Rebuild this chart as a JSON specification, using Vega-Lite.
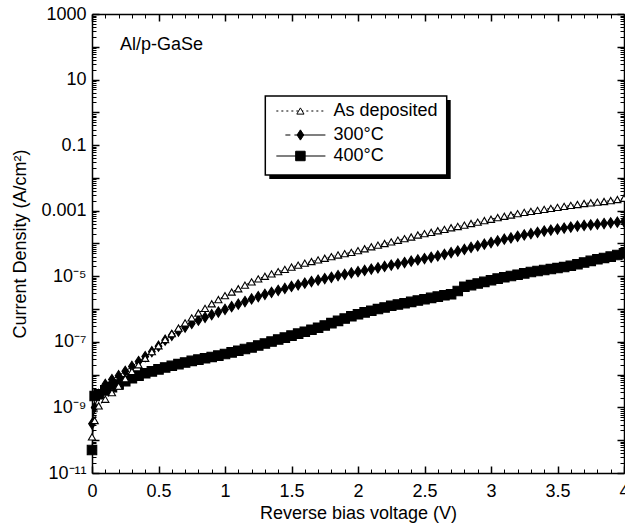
{
  "$schema": "https://vega.github.io/schema/vega-lite/v6.json",
  "width": 532,
  "height": 459,
  "autosize": {"type": "none"},
  "padding": {"left": 92, "top": 14, "right": 1, "bottom": 55},
  "background": "white",
  "config": {
    "view": {"stroke": null},
    "font": "Liberation Sans",
    "axis": {"grid": false, "tickColor": "black", "domainColor": "black", "labelColor": "black", "titleColor": "black", "labelFont": "Liberation Sans", "titleFont": "Liberation Sans", "titleFontWeight": "normal"}
  },
  "resolve": {"axis": {"x": "independent", "y": "independent"}},
  "datasets": {
    "series": [
      {"s":"As deposited","v":0,"j":1.26e-10},{"s":"As deposited","v":0.02,"j":3.98e-10},{"s":"As deposited","v":0.05,"j":1.12e-9},{"s":"As deposited","v":0.1,"j":1.78e-9},{"s":"As deposited","v":0.15,"j":2.82e-9},{"s":"As deposited","v":0.2,"j":4.47e-9},{"s":"As deposited","v":0.25,"j":7.59e-9},{"s":"As deposited","v":0.3,"j":1.26e-8},{"s":"As deposited","v":0.35,"j":2.0e-8},{"s":"As deposited","v":0.4,"j":3.16e-8},{"s":"As deposited","v":0.45,"j":5.01e-8},{"s":"As deposited","v":0.5,"j":7.59e-8},{"s":"As deposited","v":0.55,"j":1.18e-7},{"s":"As deposited","v":0.6,"j":1.78e-7},{"s":"As deposited","v":0.65,"j":2.63e-7},{"s":"As deposited","v":0.7,"j":3.8e-7},{"s":"As deposited","v":0.75,"j":5.37e-7},{"s":"As deposited","v":0.8,"j":7.59e-7},{"s":"As deposited","v":0.85,"j":1.05e-6},{"s":"As deposited","v":0.9,"j":1.45e-6},{"s":"As deposited","v":0.95,"j":1.95e-6},{"s":"As deposited","v":1,"j":2.57e-6},{"s":"As deposited","v":1.05,"j":3.31e-6},{"s":"As deposited","v":1.1,"j":4.17e-6},{"s":"As deposited","v":1.15,"j":5.37e-6},{"s":"As deposited","v":1.2,"j":6.76e-6},{"s":"As deposited","v":1.25,"j":8.32e-6},{"s":"As deposited","v":1.3,"j":1.0e-5},{"s":"As deposited","v":1.35,"j":1.18e-5},{"s":"As deposited","v":1.4,"j":1.38e-5},{"s":"As deposited","v":1.45,"j":1.62e-5},{"s":"As deposited","v":1.5,"j":1.91e-5},{"s":"As deposited","v":1.55,"j":2.19e-5},{"s":"As deposited","v":1.6,"j":2.51e-5},{"s":"As deposited","v":1.65,"j":2.82e-5},{"s":"As deposited","v":1.7,"j":3.16e-5},{"s":"As deposited","v":1.75,"j":3.55e-5},{"s":"As deposited","v":1.8,"j":3.98e-5},{"s":"As deposited","v":1.85,"j":4.47e-5},{"s":"As deposited","v":1.9,"j":4.9e-5},{"s":"As deposited","v":1.95,"j":5.37e-5},{"s":"As deposited","v":2,"j":6.03e-5},{"s":"As deposited","v":2.05,"j":6.92e-5},{"s":"As deposited","v":2.1,"j":7.94e-5},{"s":"As deposited","v":2.15,"j":8.91e-5},{"s":"As deposited","v":2.2,"j":1.0e-4},{"s":"As deposited","v":2.25,"j":1.12e-4},{"s":"As deposited","v":2.3,"j":1.26e-4},{"s":"As deposited","v":2.35,"j":1.41e-4},{"s":"As deposited","v":2.4,"j":1.58e-4},{"s":"As deposited","v":2.45,"j":1.82e-4},{"s":"As deposited","v":2.5,"j":2.0e-4},{"s":"As deposited","v":2.55,"j":2.19e-4},{"s":"As deposited","v":2.6,"j":2.45e-4},{"s":"As deposited","v":2.65,"j":2.69e-4},{"s":"As deposited","v":2.7,"j":3.02e-4},{"s":"As deposited","v":2.75,"j":3.31e-4},{"s":"As deposited","v":2.8,"j":3.63e-4},{"s":"As deposited","v":2.85,"j":4.07e-4},{"s":"As deposited","v":2.9,"j":4.47e-4},{"s":"As deposited","v":2.95,"j":5.01e-4},{"s":"As deposited","v":3,"j":5.5e-4},{"s":"As deposited","v":3.05,"j":6.17e-4},{"s":"As deposited","v":3.1,"j":6.76e-4},{"s":"As deposited","v":3.15,"j":7.41e-4},{"s":"As deposited","v":3.2,"j":8.13e-4},{"s":"As deposited","v":3.25,"j":8.91e-4},{"s":"As deposited","v":3.3,"j":9.55e-4},{"s":"As deposited","v":3.35,"j":1.02e-3},{"s":"As deposited","v":3.4,"j":1.1e-3},{"s":"As deposited","v":3.45,"j":1.18e-3},{"s":"As deposited","v":3.5,"j":1.26e-3},{"s":"As deposited","v":3.55,"j":1.35e-3},{"s":"As deposited","v":3.6,"j":1.45e-3},{"s":"As deposited","v":3.65,"j":1.55e-3},{"s":"As deposited","v":3.7,"j":1.66e-3},{"s":"As deposited","v":3.75,"j":1.74e-3},{"s":"As deposited","v":3.8,"j":1.82e-3},{"s":"As deposited","v":3.85,"j":1.91e-3},{"s":"As deposited","v":3.9,"j":2.04e-3},{"s":"As deposited","v":3.95,"j":2.19e-3},{"s":"As deposited","v":4,"j":2.4e-3},
      {"s":"300°C","v":0,"j":3.16e-10},{"s":"300°C","v":0.02,"j":1.0e-9},{"s":"300°C","v":0.05,"j":2.51e-9},{"s":"300°C","v":0.1,"j":5.01e-9},{"s":"300°C","v":0.15,"j":7.08e-9},{"s":"300°C","v":0.2,"j":9.33e-9},{"s":"300°C","v":0.25,"j":1.26e-8},{"s":"300°C","v":0.3,"j":1.78e-8},{"s":"300°C","v":0.35,"j":2.51e-8},{"s":"300°C","v":0.4,"j":3.55e-8},{"s":"300°C","v":0.45,"j":5.01e-8},{"s":"300°C","v":0.5,"j":7.41e-8},{"s":"300°C","v":0.55,"j":1.12e-7},{"s":"300°C","v":0.6,"j":1.58e-7},{"s":"300°C","v":0.65,"j":2.14e-7},{"s":"300°C","v":0.7,"j":2.82e-7},{"s":"300°C","v":0.75,"j":3.63e-7},{"s":"300°C","v":0.8,"j":4.57e-7},{"s":"300°C","v":0.85,"j":5.62e-7},{"s":"300°C","v":0.9,"j":6.76e-7},{"s":"300°C","v":0.95,"j":8.13e-7},{"s":"300°C","v":1,"j":9.77e-7},{"s":"300°C","v":1.05,"j":1.18e-6},{"s":"300°C","v":1.1,"j":1.41e-6},{"s":"300°C","v":1.15,"j":1.7e-6},{"s":"300°C","v":1.2,"j":2.04e-6},{"s":"300°C","v":1.25,"j":2.4e-6},{"s":"300°C","v":1.3,"j":2.82e-6},{"s":"300°C","v":1.35,"j":3.24e-6},{"s":"300°C","v":1.4,"j":3.72e-6},{"s":"300°C","v":1.45,"j":4.27e-6},{"s":"300°C","v":1.5,"j":4.9e-6},{"s":"300°C","v":1.55,"j":5.5e-6},{"s":"300°C","v":1.6,"j":6.17e-6},{"s":"300°C","v":1.65,"j":6.92e-6},{"s":"300°C","v":1.7,"j":7.59e-6},{"s":"300°C","v":1.75,"j":8.51e-6},{"s":"300°C","v":1.8,"j":9.33e-6},{"s":"300°C","v":1.85,"j":1.05e-5},{"s":"300°C","v":1.9,"j":1.15e-5},{"s":"300°C","v":1.95,"j":1.26e-5},{"s":"300°C","v":2,"j":1.38e-5},{"s":"300°C","v":2.05,"j":1.51e-5},{"s":"300°C","v":2.1,"j":1.66e-5},{"s":"300°C","v":2.15,"j":1.82e-5},{"s":"300°C","v":2.2,"j":2.0e-5},{"s":"300°C","v":2.25,"j":2.19e-5},{"s":"300°C","v":2.3,"j":2.4e-5},{"s":"300°C","v":2.35,"j":2.63e-5},{"s":"300°C","v":2.4,"j":2.88e-5},{"s":"300°C","v":2.45,"j":3.16e-5},{"s":"300°C","v":2.5,"j":3.47e-5},{"s":"300°C","v":2.55,"j":3.8e-5},{"s":"300°C","v":2.6,"j":4.17e-5},{"s":"300°C","v":2.65,"j":4.68e-5},{"s":"300°C","v":2.7,"j":5.25e-5},{"s":"300°C","v":2.75,"j":5.89e-5},{"s":"300°C","v":2.8,"j":6.61e-5},{"s":"300°C","v":2.85,"j":7.59e-5},{"s":"300°C","v":2.9,"j":8.51e-5},{"s":"300°C","v":2.95,"j":9.55e-5},{"s":"300°C","v":3,"j":1.07e-4},{"s":"300°C","v":3.05,"j":1.2e-4},{"s":"300°C","v":3.1,"j":1.35e-4},{"s":"300°C","v":3.15,"j":1.48e-4},{"s":"300°C","v":3.2,"j":1.66e-4},{"s":"300°C","v":3.25,"j":1.82e-4},{"s":"300°C","v":3.3,"j":2.0e-4},{"s":"300°C","v":3.35,"j":2.19e-4},{"s":"300°C","v":3.4,"j":2.4e-4},{"s":"300°C","v":3.45,"j":2.57e-4},{"s":"300°C","v":3.5,"j":2.75e-4},{"s":"300°C","v":3.55,"j":2.95e-4},{"s":"300°C","v":3.6,"j":3.16e-4},{"s":"300°C","v":3.65,"j":3.39e-4},{"s":"300°C","v":3.7,"j":3.55e-4},{"s":"300°C","v":3.75,"j":3.72e-4},{"s":"300°C","v":3.8,"j":3.89e-4},{"s":"300°C","v":3.85,"j":4.07e-4},{"s":"300°C","v":3.9,"j":4.27e-4},{"s":"300°C","v":3.95,"j":4.47e-4},{"s":"300°C","v":4,"j":4.68e-4},
      {"s":"400°C","v":0,"j":5.01e-11},{"s":"400°C","v":0.02,"j":2.24e-9},{"s":"400°C","v":0.05,"j":2.51e-9},{"s":"400°C","v":0.1,"j":3.31e-9},{"s":"400°C","v":0.15,"j":4.17e-9},{"s":"400°C","v":0.2,"j":5.01e-9},{"s":"400°C","v":0.25,"j":6.31e-9},{"s":"400°C","v":0.3,"j":7.76e-9},{"s":"400°C","v":0.35,"j":9.33e-9},{"s":"400°C","v":0.4,"j":1.1e-8},{"s":"400°C","v":0.45,"j":1.26e-8},{"s":"400°C","v":0.5,"j":1.45e-8},{"s":"400°C","v":0.55,"j":1.66e-8},{"s":"400°C","v":0.6,"j":1.86e-8},{"s":"400°C","v":0.65,"j":2.09e-8},{"s":"400°C","v":0.7,"j":2.34e-8},{"s":"400°C","v":0.75,"j":2.63e-8},{"s":"400°C","v":0.8,"j":2.88e-8},{"s":"400°C","v":0.85,"j":3.16e-8},{"s":"400°C","v":0.9,"j":3.47e-8},{"s":"400°C","v":0.95,"j":3.8e-8},{"s":"400°C","v":1,"j":4.27e-8},{"s":"400°C","v":1.05,"j":4.79e-8},{"s":"400°C","v":1.1,"j":5.37e-8},{"s":"400°C","v":1.15,"j":6.03e-8},{"s":"400°C","v":1.2,"j":6.76e-8},{"s":"400°C","v":1.25,"j":7.76e-8},{"s":"400°C","v":1.3,"j":8.91e-8},{"s":"400°C","v":1.35,"j":1.02e-7},{"s":"400°C","v":1.4,"j":1.18e-7},{"s":"400°C","v":1.45,"j":1.35e-7},{"s":"400°C","v":1.5,"j":1.55e-7},{"s":"400°C","v":1.55,"j":1.78e-7},{"s":"400°C","v":1.6,"j":2.04e-7},{"s":"400°C","v":1.65,"j":2.34e-7},{"s":"400°C","v":1.7,"j":2.69e-7},{"s":"400°C","v":1.75,"j":3.16e-7},{"s":"400°C","v":1.8,"j":3.72e-7},{"s":"400°C","v":1.85,"j":4.37e-7},{"s":"400°C","v":1.9,"j":5.13e-7},{"s":"400°C","v":1.95,"j":6.03e-7},{"s":"400°C","v":2,"j":6.92e-7},{"s":"400°C","v":2.05,"j":7.94e-7},{"s":"400°C","v":2.1,"j":8.91e-7},{"s":"400°C","v":2.15,"j":1.0e-6},{"s":"400°C","v":2.2,"j":1.12e-6},{"s":"400°C","v":2.25,"j":1.26e-6},{"s":"400°C","v":2.3,"j":1.38e-6},{"s":"400°C","v":2.35,"j":1.51e-6},{"s":"400°C","v":2.4,"j":1.66e-6},{"s":"400°C","v":2.45,"j":1.82e-6},{"s":"400°C","v":2.5,"j":2.0e-6},{"s":"400°C","v":2.55,"j":2.19e-6},{"s":"400°C","v":2.6,"j":2.4e-6},{"s":"400°C","v":2.65,"j":2.63e-6},{"s":"400°C","v":2.7,"j":2.82e-6},{"s":"400°C","v":2.75,"j":3.55e-6},{"s":"400°C","v":2.8,"j":4.79e-6},{"s":"400°C","v":2.85,"j":5.37e-6},{"s":"400°C","v":2.9,"j":6.03e-6},{"s":"400°C","v":2.95,"j":6.76e-6},{"s":"400°C","v":3,"j":7.59e-6},{"s":"400°C","v":3.05,"j":8.51e-6},{"s":"400°C","v":3.1,"j":9.33e-6},{"s":"400°C","v":3.15,"j":1.02e-5},{"s":"400°C","v":3.2,"j":1.12e-5},{"s":"400°C","v":3.25,"j":1.23e-5},{"s":"400°C","v":3.3,"j":1.35e-5},{"s":"400°C","v":3.35,"j":1.45e-5},{"s":"400°C","v":3.4,"j":1.55e-5},{"s":"400°C","v":3.45,"j":1.66e-5},{"s":"400°C","v":3.5,"j":1.78e-5},{"s":"400°C","v":3.55,"j":1.91e-5},{"s":"400°C","v":3.6,"j":2.09e-5},{"s":"400°C","v":3.65,"j":2.34e-5},{"s":"400°C","v":3.7,"j":2.63e-5},{"s":"400°C","v":3.75,"j":2.95e-5},{"s":"400°C","v":3.8,"j":3.31e-5},{"s":"400°C","v":3.85,"j":3.63e-5},{"s":"400°C","v":3.9,"j":3.98e-5},{"s":"400°C","v":3.95,"j":4.47e-5},{"s":"400°C","v":4,"j":5.01e-5}
    ],
    "legend": [
      {"s":"As deposited","x1":1.386,"x2":1.755,"xm":1.567,"xt":1.815,"y":1.1},
      {"s":"300°C","x1":1.454,"x2":1.755,"xm":1.567,"xt":1.815,"y":0.204},
      {"s":"400°C","x1":1.386,"x2":1.755,"xm":1.567,"xt":1.815,"y":0.0467}
    ]
  },
  "layer": [
    {
      "data": {"values": [{"x1":1.333,"x2":2.697,"y1":2.38,"y2":0.00929}]},
      "mark": {"type":"rect","fill":"black"},
      "encoding": {
        "x": {"field":"x1","type":"quantitative","scale":{"domain":[0,4],"nice":false,"zero":false},
              "axis":{"orient":"top","values":[0,0.5,1,1.5,2,2.5,3,3.5,4],"labels":false,"tickSize":-7,"tickWidth":1.5,"domain":true,"domainWidth":1.5,"title":null}},
        "x2": {"field":"x2"},
        "y": {"field":"y1","type":"quantitative","scale":{"type":"log","domain":[1e-11,1000],"nice":false},
              "axis":{"orient":"right","values":[1e-11,1e-10,1e-9,1e-8,1e-7,1e-6,1e-5,1e-4,1e-3,1e-2,1e-1,1,10,100,1000],"labels":false,"tickSize":-7,"tickWidth":1.5,"domain":true,"domainWidth":1.5,"title":null}},
        "y2": {"field":"y2"}
      }
    },
    {
      "data": {"values": [{"x1":1.303,"x2":2.667,"y1":3.16,"y2":0.0123}]},
      "mark": {"type":"rect","fill":"white","stroke":"black","strokeWidth":1.5},
      "encoding": {
        "x": {"field":"x1","type":"quantitative","scale":{"domain":[0,4],"nice":false,"zero":false},
              "axis":{"orient":"top","values":[0.1,0.2,0.3,0.4,0.6,0.7,0.8,0.9,1.1,1.2,1.3,1.4,1.6,1.7,1.8,1.9,2.1,2.2,2.3,2.4,2.6,2.7,2.8,2.9,3.1,3.2,3.3,3.4,3.6,3.7,3.8,3.9],"labels":false,"tickSize":-4,"tickWidth":1,"domain":false,"title":null}},
        "x2": {"field":"x2"},
        "y": {"field":"y1","type":"quantitative","scale":{"type":"log","domain":[1e-11,1000],"nice":false},
              "axis":{"orient":"right","values":[2e-11,3e-11,4e-11,5e-11,6e-11,7e-11,8e-11,9e-11,2e-10,3e-10,4e-10,5e-10,6e-10,7e-10,8e-10,9e-10,2e-9,3e-9,4e-9,5e-9,6e-9,7e-9,8e-9,9e-9,2e-8,3e-8,4e-8,5e-8,6e-8,7e-8,8e-8,9e-8,2e-7,3e-7,4e-7,5e-7,6e-7,7e-7,8e-7,9e-7,2e-6,3e-6,4e-6,5e-6,6e-6,7e-6,8e-6,9e-6,2e-5,3e-5,4e-5,5e-5,6e-5,7e-5,8e-5,9e-5,2e-4,3e-4,4e-4,5e-4,6e-4,7e-4,8e-4,9e-4,2e-3,3e-3,4e-3,5e-3,6e-3,7e-3,8e-3,9e-3,0.02,0.03,0.04,0.05,0.06,0.07,0.08,0.09,0.2,0.3,0.4,0.5,0.6,0.7,0.8,0.9,2,3,4,5,6,7,8,9,20,30,40,50,60,70,80,90,200,300,400,500,600,700,800,900],"labels":false,"tickSize":-4,"tickWidth":1,"domain":false,"title":null}},
        "y2": {"field":"y2"}
      }
    },
    {
      "data": {"name": "series"},
      "mark": {"type":"line","color":"black","strokeWidth":1},
      "encoding": {
        "x": {"field":"v","type":"quantitative","scale":{"domain":[0,4],"nice":false,"zero":false},
              "axis":{"orient":"bottom","values":[0,0.5,1,1.5,2,2.5,3,3.5,4],"format":"~g","labelFontSize":18,"labelPadding":16,"labelFlush":false,"labelOverlap":false,"tickSize":-7,"tickWidth":1.5,"domain":true,"domainWidth":1.5,"title":"Reverse bias voltage (V)","titleFontSize":18,"titlePadding":4}},
        "y": {"field":"j","type":"quantitative","scale":{"type":"log","domain":[1e-11,1000],"nice":false},
              "axis":{"orient":"left","values":[1e-11,1e-10,1e-9,1e-8,1e-7,1e-6,1e-5,1e-4,1e-3,1e-2,1e-1,1,10,100,1000],"labelExpr":"['10⁻¹¹','','10⁻⁹','','10⁻⁷','','10⁻⁵','','0.001','','0.1','','10','','1000'][round(log(datum.value)/LN10)+11]","labelFontSize":18,"labelPadding":13,"labelFlush":false,"labelOverlap":false,"tickSize":-7,"tickWidth":1.5,"domain":true,"domainWidth":1.5,"title":"Current Density (A/cm²)","titleFontSize":18,"titlePadding":11}},
        "detail": {"field":"s"},
        "strokeDash": {"field":"s","type":"nominal","scale":{"domain":["As deposited","300°C","400°C"],"range":[[2,3],[5,4,80,1],[1,0]]},"legend":null}
      }
    },
    {
      "data": {"name": "series"},
      "mark": {"type":"point","stroke":"black","strokeWidth":1.1,"opacity":1},
      "encoding": {
        "x": {"field":"v","type":"quantitative","scale":{"domain":[0,4],"nice":false,"zero":false},
              "axis":{"orient":"bottom","values":[0.1,0.2,0.3,0.4,0.6,0.7,0.8,0.9,1.1,1.2,1.3,1.4,1.6,1.7,1.8,1.9,2.1,2.2,2.3,2.4,2.6,2.7,2.8,2.9,3.1,3.2,3.3,3.4,3.6,3.7,3.8,3.9],"labels":false,"tickSize":-4,"tickWidth":1,"domain":false,"title":null}},
        "y": {"field":"j","type":"quantitative","scale":{"type":"log","domain":[1e-11,1000],"nice":false},
              "axis":{"orient":"left","values":[2e-11,3e-11,4e-11,5e-11,6e-11,7e-11,8e-11,9e-11,2e-10,3e-10,4e-10,5e-10,6e-10,7e-10,8e-10,9e-10,2e-9,3e-9,4e-9,5e-9,6e-9,7e-9,8e-9,9e-9,2e-8,3e-8,4e-8,5e-8,6e-8,7e-8,8e-8,9e-8,2e-7,3e-7,4e-7,5e-7,6e-7,7e-7,8e-7,9e-7,2e-6,3e-6,4e-6,5e-6,6e-6,7e-6,8e-6,9e-6,2e-5,3e-5,4e-5,5e-5,6e-5,7e-5,8e-5,9e-5,2e-4,3e-4,4e-4,5e-4,6e-4,7e-4,8e-4,9e-4,2e-3,3e-3,4e-3,5e-3,6e-3,7e-3,8e-3,9e-3,0.02,0.03,0.04,0.05,0.06,0.07,0.08,0.09,0.2,0.3,0.4,0.5,0.6,0.7,0.8,0.9,2,3,4,5,6,7,8,9,20,30,40,50,60,70,80,90,200,300,400,500,600,700,800,900],"labels":false,"tickSize":-4,"tickWidth":1,"domain":false,"title":null}},
        "shape": {"field":"s","type":"nominal","scale":{"domain":["400°C","300°C","As deposited"],"range":["square","M0,-1.3L0.85,0L0,1.3L-0.85,0Z","triangle-up"]},"legend":null},
        "fill": {"field":"s","type":"nominal","scale":{"domain":["400°C","300°C","As deposited"],"range":["black","black","white"]},"legend":null},
        "size": {"field":"s","type":"nominal","scale":{"type":"ordinal","domain":["400°C","300°C","As deposited"],"range":[90,62,52]},"legend":null},
        "order": {"field":"s","sort":"ascending"}
      }
    },
    {
      "data": {"name": "legend"},
      "mark": {"type":"rule","color":"black","strokeWidth":1.2},
      "encoding": {
        "x": {"field":"x1","type":"quantitative","scale":{"domain":[0,4],"nice":false,"zero":false},"axis":null},
        "x2": {"field":"x2"},
        "y": {"field":"y","type":"quantitative","scale":{"type":"log","domain":[1e-11,1000],"nice":false},"axis":null},
        "strokeDash": {"field":"s","type":"nominal","scale":{"domain":["As deposited","300°C","400°C"],"range":[[2,3],[5,4,80,1],[1,0]]},"legend":null}
      }
    },
    {
      "data": {"name": "legend"},
      "mark": {"type":"point","stroke":"black","strokeWidth":1,"opacity":1},
      "encoding": {
        "x": {"field":"xm","type":"quantitative","scale":{"domain":[0,4],"nice":false,"zero":false},"axis":null},
        "y": {"field":"y","type":"quantitative","scale":{"type":"log","domain":[1e-11,1000],"nice":false},"axis":null},
        "shape": {"field":"s","type":"nominal","scale":{"domain":["400°C","300°C","As deposited"],"range":["square","M0,-1.3L0.85,0L0,1.3L-0.85,0Z","triangle-up"]},"legend":null},
        "fill": {"field":"s","type":"nominal","scale":{"domain":["400°C","300°C","As deposited"],"range":["black","black","white"]},"legend":null},
        "size": {"field":"s","type":"nominal","scale":{"type":"ordinal","domain":["400°C","300°C","As deposited"],"range":[90,62,52]},"legend":null}
      }
    },
    {
      "data": {"name": "legend"},
      "mark": {"type":"text","align":"left","baseline":"middle","fontSize":18,"font":"Liberation Sans","color":"black"},
      "encoding": {
        "x": {"field":"xt","type":"quantitative","scale":{"domain":[0,4],"nice":false,"zero":false},"axis":null},
        "y": {"field":"y","type":"quantitative","scale":{"type":"log","domain":[1e-11,1000],"nice":false},"axis":null},
        "text": {"field":"s"}
      }
    },
    {
      "data": {"values": [{"label":"Al/p-GaSe","x":0.211,"y":113}]},
      "mark": {"type":"text","align":"left","baseline":"middle","fontSize":18,"font":"Liberation Sans","color":"black"},
      "encoding": {
        "x": {"field":"x","type":"quantitative","scale":{"domain":[0,4],"nice":false,"zero":false},"axis":null},
        "y": {"field":"y","type":"quantitative","scale":{"type":"log","domain":[1e-11,1000],"nice":false},"axis":null},
        "text": {"field":"label"}
      }
    }
  ]
}
